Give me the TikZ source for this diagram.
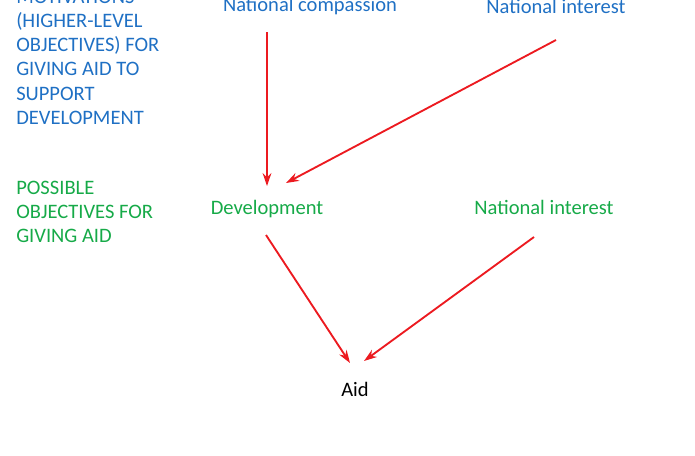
\documentclass[tikz,border=0pt]{standalone}
\usepackage{fontspec}
\setmainfont{Carlito}
\usetikzlibrary{arrows.meta,positioning,calc}
\definecolor{motblue}{RGB}{31,112,196}
\definecolor{objgreen}{RGB}{22,170,72}
\definecolor{arrred}{RGB}{236,26,32}
\tikzset{
  mytext/.style = {inner sep=0pt, font=\fontsize{15.4pt}{18.2pt}\selectfont},
  myblue/.style = {mytext, text=motblue},
  mygreen/.style = {mytext, text=objgreen},
  mylabel/.style = {mytext, anchor=north west, align=left},
  myarrow/.style = {-{Stealth[length=3.4mm, width=2.3mm]}, line width=1.4pt, draw=arrred},
}
\begin{document}
\begin{tikzpicture}[x=0.75pt, y=-0.75pt]
\useasboundingbox (0,0) rectangle (695,455);
% side labels
\node[myblue, mylabel] (motiv) at (16,-10.5) {MOTIVATIONS\\(HIGHER-LEVEL\\OBJECTIVES) FOR\\GIVING AID TO\\SUPPORT\\DEVELOPMENT};
\node[mygreen, mylabel] (possib) at (16,180.5) {POSSIBLE\\OBJECTIVES FOR\\GIVING AID};
% motivations
\node[myblue, anchor=base] (comp) at (310,11) {National compassion};
\node[myblue, anchor=base] (natint) at (556,13) {National interest};
% objectives
\node[mygreen, anchor=base] (devel) at (267,214) {Development};
\node[mygreen, anchor=base] (objint) at (544,214) {National interest};
\node[mytext, anchor=base] (aid) at (355,396) {Aid};
\draw[myarrow] ($(comp.base -| devel.base)+(0,21)$) -- ($(devel.base)+(0,-28)$);
\draw[myarrow] ($(natint.base)+(0,27)$) -- ($(devel.base)+(19,-31)$);
\draw[myarrow] ($(devel.base)+(-1,21)$) -- ($(aid.base)+(-5,-33)$);
\draw[myarrow] ($(objint.base)+(-10,23)$) -- ($(aid.base)+(9,-35)$);
\end{tikzpicture}
\end{document}
